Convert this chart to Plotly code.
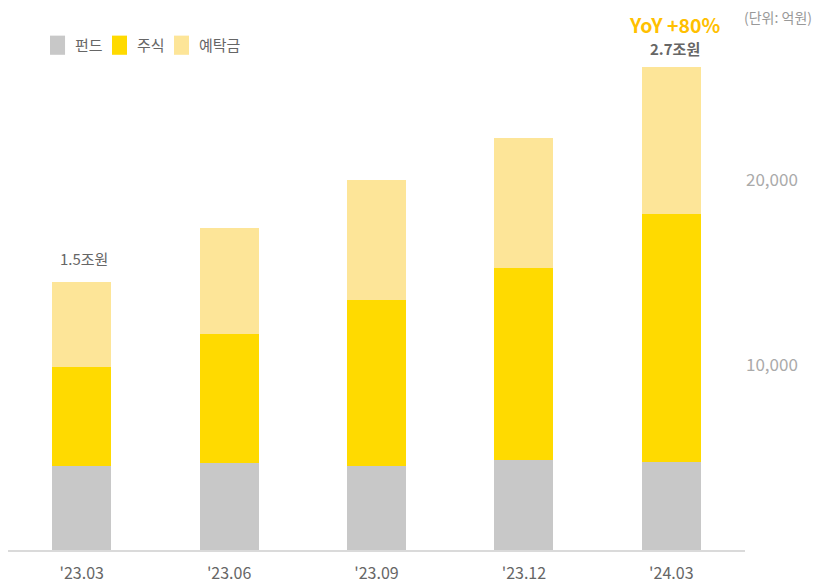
import plotly.graph_objects as go

# quarter labels and stacked values (unit: 100M KRW)
quarters = ["'23.03", "'23.06", "'23.09", "'23.12", "'24.03"]
fund = [4540, 4700, 4540, 4860, 4780]
stock = [5340, 6980, 8970, 10400, 13380]
deposit = [4590, 5730, 6490, 7010, 7960]
series_names = ["펀드", "주식", "예탁금"]
totals = [f + s + d for f, s, d in zip(fund, stock, deposit)]

colors = ["#C8C8C8", "#FFDA00", "#FDE598"]
FONT = "Noto Sans CJK KR"

fig = go.Figure()
for name, vals, color in zip(series_names, [fund, stock, deposit], colors):
    fig.add_trace(go.Bar(
        x=quarters, y=vals, name=name,
        marker=dict(color=color, line=dict(width=0)),
        width=0.4,
    ))

# hand-made legend (bigger swatches than the built-in one)
for i, (name, color) in enumerate(zip(series_names, colors)):
    x0 = 0.057 + i * 0.0841
    fig.add_shape(type="rect", xref="paper", yref="paper",
                  x0=x0, x1=x0 + 0.0204, y0=0.956, y1=0.993,
                  fillcolor=color, line=dict(width=0), layer="above")
    fig.add_annotation(xref="paper", yref="paper", x=x0 + 0.031, y=0.975,
                       text=name, showarrow=False, xanchor="left", yanchor="middle",
                       font=dict(size=15, color="#666666"))

# total labels on first and last bar
fig.add_annotation(x=quarters[0], y=totals[0], text="1.5조원", showarrow=False,
                   yanchor="bottom", yshift=11, xshift=2,
                   font=dict(size=15, color="#666666"))
fig.add_annotation(x=quarters[-1], y=totals[-1], text="<b>2.7조원</b>", showarrow=False,
                   yanchor="bottom", yshift=6, xshift=4,
                   font=dict(size=15, color="#666666"))
fig.add_annotation(x=quarters[-1], y=totals[-1], text="<b>YoY +80%</b>", showarrow=False,
                   yanchor="bottom", yshift=26, xshift=3,
                   font=dict(size=19.5, color="#FFC000"))
fig.add_annotation(xref="paper", yref="paper", x=0.996, y=1.029, text="(단위: 억원)",
                   showarrow=False, xanchor="left", yanchor="middle",
                   font=dict(size=14, color="#999999"))

fig.update_layout(
    width=816, height=575,
    barmode="stack",
    plot_bgcolor="white", paper_bgcolor="white",
    font=dict(family=FONT, color="#666666"),
    margin=dict(l=0, r=79, t=24, b=33),
    showlegend=False,
    xaxis=dict(showgrid=False, showline=True, linecolor="#DADADA", linewidth=2,
               ticks="", ticklabelstandoff=8, automargin=False,
               tickfont=dict(size=16, color="#666666")),
    yaxis=dict(side="right", range=[0, 28000], tickvals=[10000, 20000],
               tickformat=",", showgrid=False, zeroline=False, showline=False,
               ticks="", ticklabelstandoff=0, automargin=False,
               tickfont=dict(size=17, color="#AAAAAA")),
)

fig.write_html("out.html")
